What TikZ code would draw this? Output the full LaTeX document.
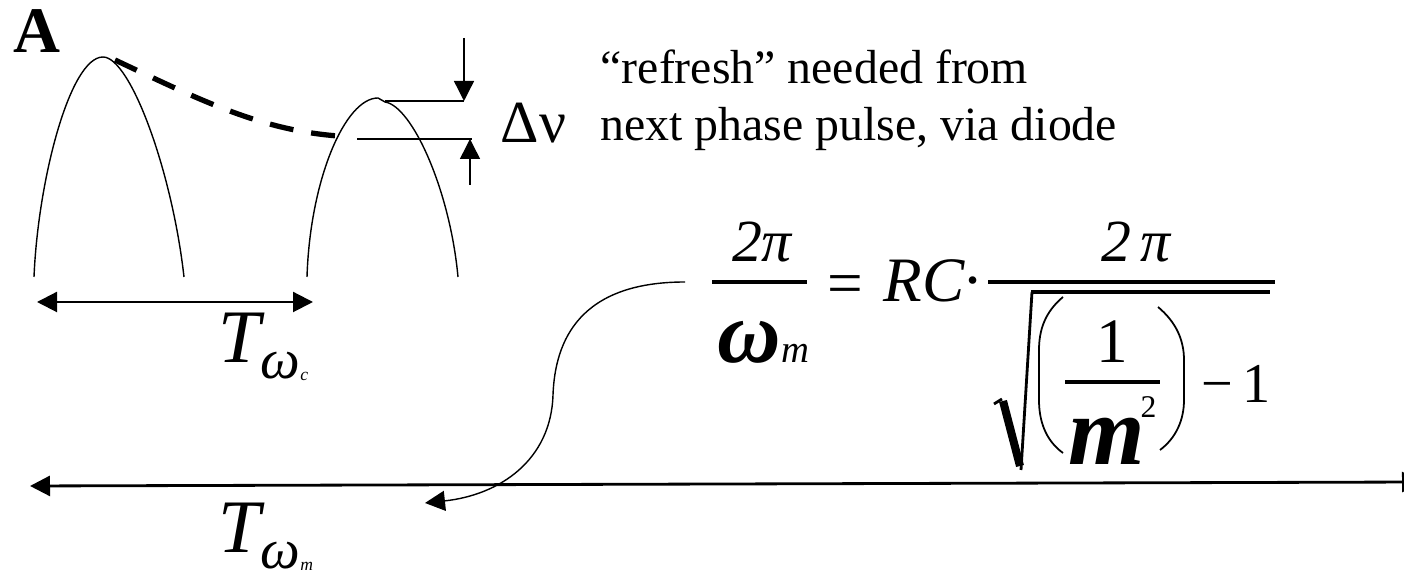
\documentclass[tikz,border=0pt]{standalone}
\usepackage{fontspec}
\setmainfont{Liberation Serif}
\usetikzlibrary{arrows.meta, positioning}

% period label T with nested subscript
\newcommand{\Tlabel}[1]{{\fontsize{21.5}{22}\selectfont\itshape T}\raisebox{-4.3pt}{{\fontsize{16}{16}\selectfont\itshape ω}\raisebox{-0.6pt}{\fontsize{5}{5}\selectfont\itshape #1}}}

\begin{document}
\begin{tikzpicture}[x=0.1mm, y=-0.1mm, >={Triangle[length=2mm, width=2mm]},
    txt/.style={inner sep=0pt, anchor=base west},
    mid/.style={inner sep=0pt, anchor=base},
    wave/.style={line width=0.4pt},
    bar/.style={line width=1.2pt}]
    \useasboundingbox (0,0) rectangle (1404,575);
    \clip (0,0) rectangle (1404,575);

    % Panel letter
    \node[txt, font=\fontsize{18.5}{20}\selectfont\bfseries] (lettera) at (13,53) {A};

    % Pulses
    \coordinate (peak1) at (103,57);
    \coordinate (peak2) at (378,98);
    \draw[wave] (34,277) .. controls (38,180) and (70,57) .. (peak1) .. controls (130,57) and (172,170) .. (184,277);
    \draw[wave] (307,277) .. controls (310,180) and (345,98) .. (peak2) -- (385,102) .. controls (412,106) and (450,190) .. (458,277);

    % Decay between pulses
    \coordinate (decayA) at (115,60);
    \coordinate (decayB) at (338,136);
    \draw[line width=1.5pt, dash pattern=on 2.4mm off 1.8mm] (decayA) .. controls (200,100) and (260,130) .. (decayB);

    % Delta nu marker
    \coordinate (topL) at (385,101);
    \coordinate (topR) at (464,101);
    \coordinate (lowL) at (357,139);
    \coordinate (lowR) at (472,139);
    \coordinate (dnTail) at (464,38);
    \coordinate (upTail) at (470,185);
    \draw[wave] (topL) -- (topR);
    \draw[wave] (lowL) -- (lowR);
    \draw[->, wave] (dnTail) -- (topR);
    \draw[->, wave] (upTail) -- (470,139);
    \node[txt, font=\fontsize{17}{18}\selectfont] (dnu) at (500,143) {Δν};

    % Note
    \node[txt, font=\fontsize{13.6}{16}\selectfont] (refresh) at (600,84) {“refresh” needed from};
    \node[txt, font=\fontsize{13.6}{16}\selectfont] (phase) at (600,141) {next phase pulse, via diode};

    % Carrier period
    \coordinate (tcL) at (37,302);
    \coordinate (tcR) at (313,302);
    \draw[<->, line width=0.6pt] (tcL) -- (tcR);
    \node[txt] (tc) at (218,363) {\Tlabel{c}};

    % Modulation period
    \coordinate (tmL) at (30,486);
    \coordinate (tmR) at (1422,482);
    \draw[<->, line width=0.8pt] (tmL) -- (tmR);
    \node[txt] (tm) at (218,553) {\Tlabel{m}};

    % Equation
    \node[mid, font=\fontsize{17}{18}\selectfont\itshape] (numA) at (762,262) {2π};
    \draw[bar] (712,282) -- (807,282);
    \node[txt] (denA) at (717,363) {{\fontsize{25}{25}\selectfont\bfseries\itshape ω}{\fontsize{11}{11}\selectfont\itshape m}};
    \node[mid, font=\fontsize{18}{18}\selectfont] (eq) at (845,305) {=};
    \node[txt, font=\fontsize{18}{18}\selectfont\itshape] (rc) at (883,302) {RC};
    \node[mid, font=\fontsize{18}{18}\selectfont] (cdot) at (973,302) {·};
    \node[mid, font=\fontsize{17}{18}\selectfont\itshape] (numB) at (1136,262) {2\,π};
    \draw[bar] (988,282) -- (1275,282);
    % root sign
    \draw[line width=0.8pt] (994,404) -- (1002,399);
    \draw[line width=2.3pt] (1003,401) -- (1020,466);
    \draw[line width=0.8pt] (1021,470) -- (1032,292);
    \draw[line width=1.1pt] (1031,292) -- (1270,292);
    % parentheses
    \draw[line width=0.5pt] (1063,297) .. controls (1045,312) and (1039,330) .. (1039,350) -- (1039,400) .. controls (1039,420) and (1045,440) .. (1063,453);
    \draw[line width=0.5pt] (1158,307) .. controls (1176,322) and (1184,340) .. (1184,360) -- (1184,400) .. controls (1184,420) and (1176,438) .. (1160,450);
    \node[mid, font=\fontsize{18}{18}\selectfont] (one) at (1112,363) {1};
    \draw[bar] (1065,382) -- (1160,382);
    \node[mid, font=\fontsize{28}{28}\selectfont\bfseries\itshape] (em) at (1107,465) {m};
    \node[txt, font=\fontsize{9}{9}\selectfont] (sq) at (1140,418) {2};
    \node[txt, font=\fontsize{16}{16}\selectfont] (minusone) at (1201,403) {−\,1};

    % Pointer from equation to period
    \coordinate (eqL) at (685,282);
    \coordinate (tmHit) at (425,503);
    \draw[->, wave] (eqL) .. controls (580,282) and (555,340) .. (553,395) .. controls (551,460) and (500,495) .. (tmHit);
\end{tikzpicture}
\end{document}
